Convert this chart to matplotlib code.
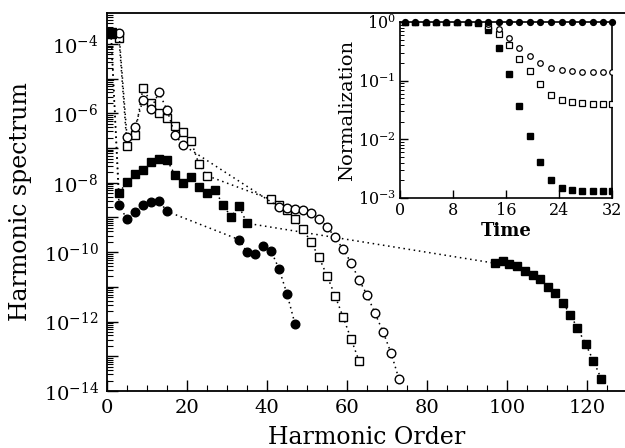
import matplotlib
matplotlib.use("Agg")
import math
import matplotlib.pyplot as plt
from matplotlib.ticker import FixedLocator, LogLocator, FuncFormatter, NullFormatter, MultipleLocator

plt.rcParams['font.family'] = ['DejaVu Serif']
plt.rcParams['mathtext.fontset'] = 'custom'
plt.rcParams['mathtext.rm'] = 'DejaVu Serif'
plt.rcParams['mathtext.it'] = 'DejaVu Serif:italic'

# ---- main panel data (harmonic order, spectrum) ----
fc_h = [1, 3, 5, 7, 9, 11, 13, 15, 33, 35, 37, 39, 41, 43, 45, 47]
fc_v = [2.1e-4, 2.3e-9, 8.9e-10, 1.4e-9, 2.3e-9, 2.75e-9, 3.0e-9, 1.5e-9,
        2.3e-10, 1.0e-10, 8.7e-11, 1.5e-10, 1.1e-10, 3.3e-11, 6.3e-12, 8.5e-13]

fs_h = [1, 3, 5, 7, 9, 11, 13, 15, 17, 19, 21, 23, 25, 27, 29, 31, 33, 35,
        97, 99, 100.5, 102.5, 104.5, 106.5, 108.3, 110.2, 112, 114, 115.8,
        117.6, 119.7, 121.6, 123.6]
fs_v = [2.1e-4, 5.0e-9, 1.07e-8, 1.76e-8, 2.3e-8, 3.9e-8, 4.9e-8, 4.6e-8,
        1.66e-8, 9.8e-9, 1.5e-8, 7.8e-9, 5.2e-9, 6.2e-9, 2.3e-9, 1.05e-9,
        2.1e-9, 6.8e-10,
        4.8e-11, 5.6e-11, 4.5e-11, 4.0e-11, 2.9e-11, 2.2e-11, 1.66e-11,
        9.8e-12, 6.6e-12, 3.4e-12, 1.6e-12, 6.5e-13, 2.2e-13, 7.4e-14, 2.2e-14]

oc_h = [1, 3, 5, 7, 9, 11, 13, 15, 17, 19,
        43, 45, 47, 49, 51, 53, 55, 57, 59, 61, 63, 65, 67, 69, 71, 73]
oc_v = [2.1e-4, 2.0e-4, 2.1e-7, 4.0e-7, 2.45e-6, 1.35e-6, 4.0e-6, 1.26e-6,
        2.4e-7, 1.23e-7,
        2.0e-9, 1.86e-9, 1.74e-9, 1.66e-9, 1.38e-9, 9.1e-10, 5.4e-10, 2.7e-10,
        1.23e-10, 5.0e-11, 1.6e-11, 5.9e-12, 1.74e-12, 5.1e-13, 1.26e-13, 2.2e-14]

os_h = [1, 3, 5, 7, 9, 11, 13, 15, 17, 19, 21, 23, 25,
        41, 43, 45, 47, 49, 51, 53, 55, 57, 59, 61, 63]
os_v = [2.1e-4, 1.45e-4, 1.17e-7, 2.4e-7, 5.5e-6, 2.0e-6, 1.0e-6, 7.2e-7,
        4.2e-7, 2.95e-7, 1.6e-7, 3.4e-8, 1.6e-8,
        3.3e-9, 2.3e-9, 1.6e-9, 9.1e-10, 4.6e-10, 1.95e-10, 7.1e-11, 2.1e-11,
        5.6e-12, 1.38e-12, 3.2e-13, 7.4e-14]

# ---- inset data (time, normalization) ----
t = [0.75, 2.3, 3.9, 5.5, 7.0, 8.6, 10.2, 11.7, 13.3, 15.0, 16.4, 18.0, 19.6,
     21.1, 22.8, 24.4, 25.9, 27.5, 29.1, 30.6, 32.0]
n_fc = [1.0] * 21
n_fs = [1.0, 1.0, 1.0, 1.0, 1.0, 1.0, 1.0, 0.95, 0.72, 0.36, 0.13, 0.0375,
        0.0112, 0.0041, 0.0020, 0.0015, 0.00137, 0.00132, 0.0013, 0.0013, 0.0013]
n_os = [1.0, 1.0, 1.0, 1.0, 1.0, 1.0, 1.0, 1.0, 0.85, 0.63, 0.41, 0.236,
        0.145, 0.088, 0.058, 0.047, 0.043, 0.0413, 0.0405, 0.0405, 0.0405]
n_oc = [1.0, 1.0, 1.0, 1.0, 1.0, 1.0, 1.0, 1.0, 0.93, 0.75, 0.525, 0.364,
        0.26, 0.20, 0.165, 0.15, 0.145, 0.143, 0.141, 0.141, 0.141]

main_xticks = [0, 20, 40, 60, 80, 100, 120]
inset_xticks = [0, 8, 16, 24, 32]

W, H = 625, 448
fig = plt.figure(figsize=(W / 100, H / 100), dpi=100)
ax = fig.add_axes([107 / W, (H - 391) / H, 520 / W, (391 - 12.7) / H])

dot = (0, (1, 2.4))
lw = 1.1
ax.plot(fs_h, fs_v, linestyle=dot, color='black', lw=lw, marker='s', ms=5.6,
        mfc='black', mec='black', zorder=3)
ax.plot(fc_h, fc_v, linestyle=dot, color='black', lw=lw, marker='o', ms=6.2,
        mfc='black', mec='black', zorder=3)
ax.plot(os_h, os_v, linestyle=dot, color='black', lw=lw, marker='s', ms=5.8,
        mfc='white', mec='black', mew=1.0, zorder=4)
ax.plot(oc_h, oc_v, linestyle=dot, color='black', lw=lw, marker='o', ms=6.2,
        mfc='white', mec='black', mew=1.0, zorder=4)
ax.plot(fs_h[:1], fs_v[:1], linestyle='none', marker='s', ms=6.5,
        mfc='black', mec='black', zorder=5)

ax.set_yscale('log')
ax.set_xlim(0, 130)
ax.set_ylim(1e-14, 10 ** -3.1)
ax.xaxis.set_major_locator(FixedLocator(main_xticks))
ax.xaxis.set_minor_locator(MultipleLocator(5))
ax.yaxis.set_major_locator(LogLocator(base=10, numticks=30))
ax.yaxis.set_minor_locator(LogLocator(base=10, subs=range(2, 10), numticks=300))
ax.yaxis.set_minor_formatter(NullFormatter())


def yfmt(v, pos):
    e = int(round(math.log10(v)))
    if e % 2 == 0:
        return r'$10^{%d}$' % e
    return ''


ax.yaxis.set_major_formatter(FuncFormatter(yfmt))
ax.tick_params(which='both', direction='in', top=False, right=False,
               labelsize=14, pad=6)
ax.tick_params(which='major', length=8, width=1.0)
ax.tick_params(which='minor', length=4, width=0.8)
for s in ax.spines.values():
    s.set_linewidth(1.3)
ax.set_xlabel('Harmonic Order', fontsize=17, labelpad=6)
ax.set_ylabel('Harmonic spectrum', fontsize=17, labelpad=8)

# ---- inset ----
ai = fig.add_axes([400 / W, (H - 198) / H, 212 / W, 176 / H])
ai.plot(t, n_fs, linestyle='none', marker='s', ms=3.8, mfc='black', mec='black', zorder=3)
ai.plot(t, n_os, linestyle='none', marker='s', ms=4.0, mfc='white', mec='black', mew=0.9, zorder=4)
ai.plot(t, n_oc, linestyle='none', marker='o', ms=4.0, mfc='white', mec='black', mew=0.9, zorder=4)
ai.plot(t, n_fc, linestyle='none', marker='o', ms=4.2, mfc='black', mec='black', zorder=5,
        clip_on=False)
ai.set_yscale('log')
ai.set_xlim(0, 32)
ai.set_ylim(1e-3, 1.0)
ai.xaxis.set_major_locator(FixedLocator(inset_xticks))
ai.yaxis.set_major_locator(LogLocator(base=10, numticks=10))
ai.yaxis.set_minor_locator(LogLocator(base=10, subs=range(2, 10), numticks=100))
ai.yaxis.set_minor_formatter(NullFormatter())
ai.yaxis.set_major_formatter(FuncFormatter(lambda v, p: r'$10^{%d}$' % round(math.log10(v))))
ai.tick_params(which='both', direction='in', top=False, right=False, labelsize=11.5, pad=3)
ai.tick_params(which='major', length=6, width=1.0)
ai.tick_params(which='minor', length=3, width=0.7)
for s in ai.spines.values():
    s.set_linewidth(1.2)
ai.set_xlabel('Time', fontsize=13, fontweight='bold', labelpad=2)
ai.set_ylabel('Normalization', fontsize=14, labelpad=1)

fig.savefig('out.png', dpi=100)
